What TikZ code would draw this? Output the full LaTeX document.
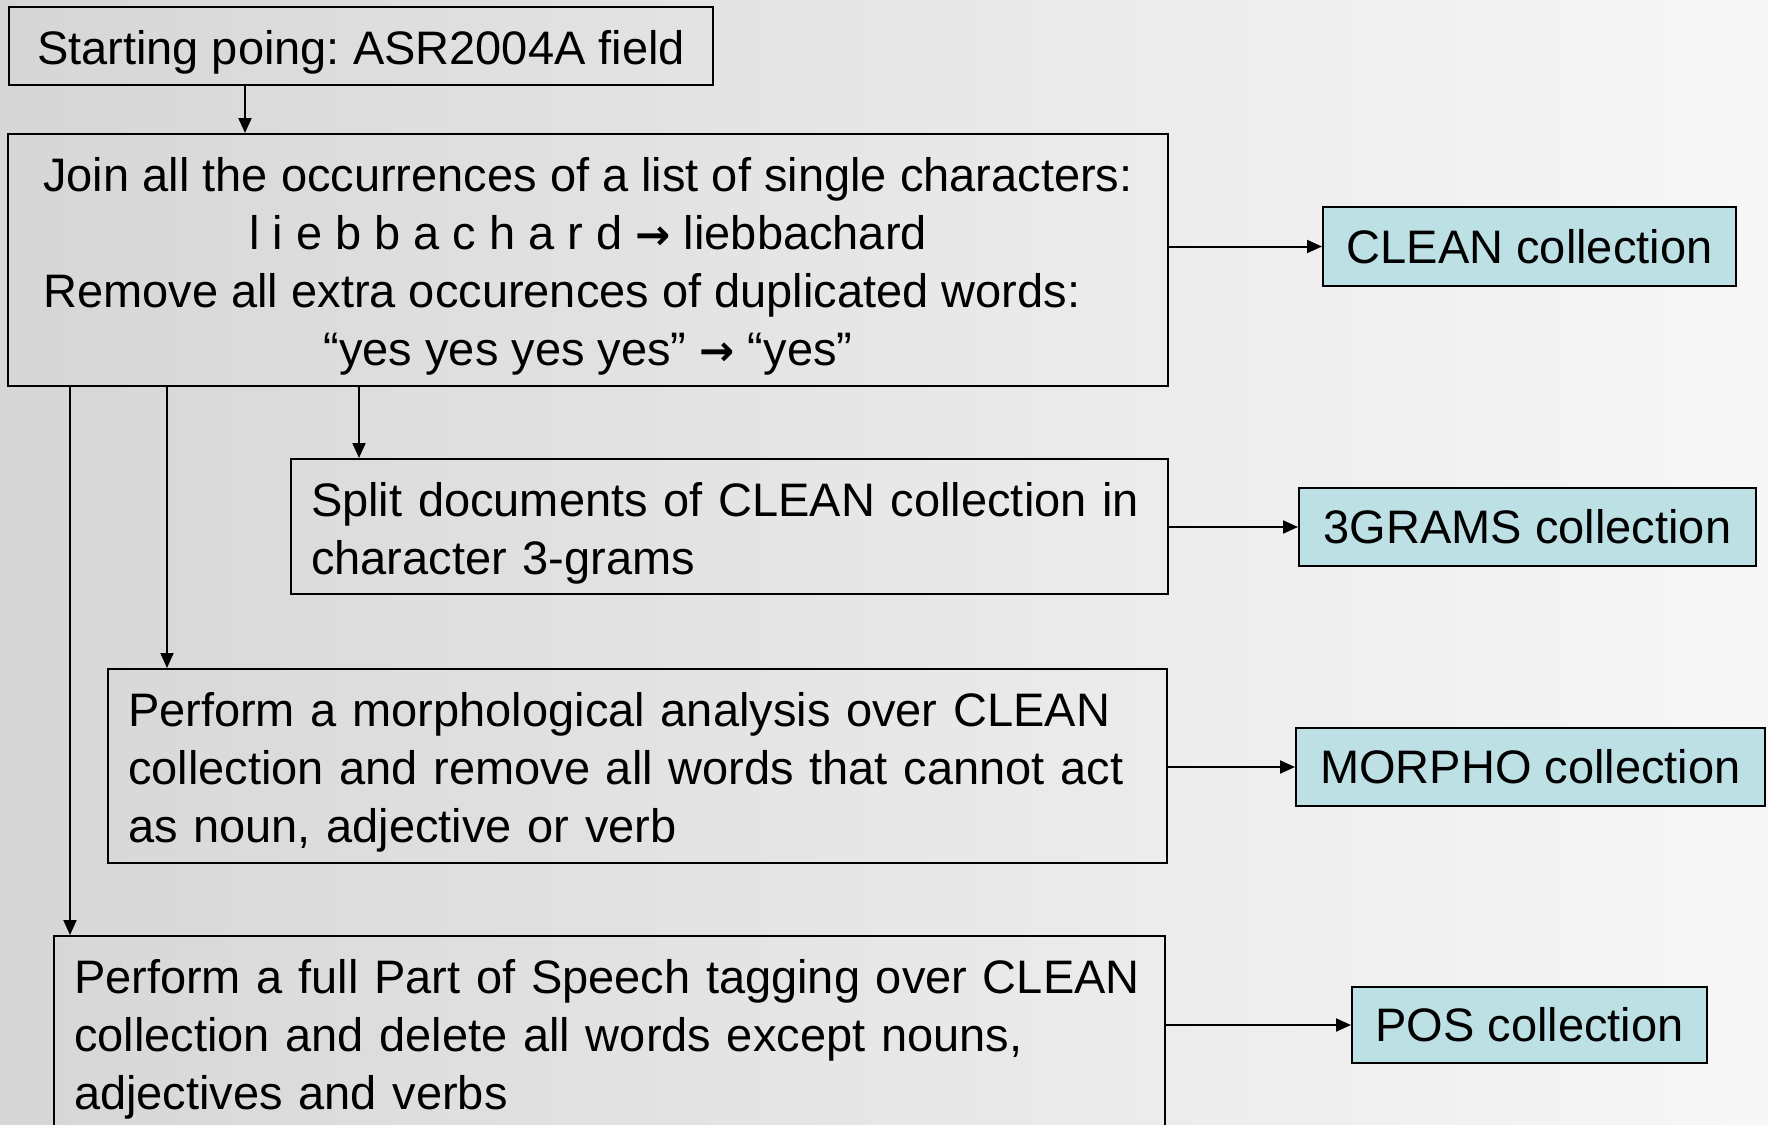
\documentclass[tikz,border=0pt]{standalone}
\usepackage{fontspec}
\setmainfont{Liberation Sans}
\newfontfamily\arrowfont{DejaVu Sans}
\usetikzlibrary{arrows.meta}
\definecolor{collfill}{RGB}{188,224,228}
\newcommand{\toarrow}{{\arrowfont\bfseries\fontsize{42}{58}\selectfont →}}
\frenchspacing

\begin{document}
\begin{tikzpicture}[x=1pt,y=-1pt,line width=2pt,
  arr/.style={-{Triangle[length=15pt,width=13pt]}},
  stepbox/.style={draw,rectangle,align=left,inner xsep=20pt,inner ysep=0pt,font=\fontsize{47}{58}\selectfont},
  coll/.style={draw,rectangle,fill=collfill,inner sep=0pt,font=\fontsize{47}{58}\selectfont}]
\useasboundingbox (0,0) rectangle (1768,1124);
\clip (0,0) rectangle (1768,1124);
% background
\shade[left color=black!16,right color=black!3] (0,0) rectangle (1768,1124);
% processing steps
\node[stepbox,minimum width=704pt,minimum height=78pt] (start) at (361,46) {\rule{0pt}{47pt}Starting poing: ASR2004A field};
\node[stepbox,minimum width=1160pt,minimum height=252pt] (join) at (588,260) {%
  \begin{tabular}{@{}l@{}}
  \rule{0pt}{54pt}Join all the occurrences of a list of single characters:\\
  \multicolumn{1}{@{}c@{}}{l i e b b a c h a r d \toarrow\ liebbachard}\\
  Remove all extra occurences of duplicated words:\\
  \multicolumn{1}{@{}c@{}}{“yes yes yes yes” \toarrow\ “yes”}
  \end{tabular}};
\node[stepbox,text width=837pt,minimum height=135pt] (split) at (729.5,526.5) {\rule{0pt}{47pt}Split documents of CLEAN collection in\\character 3-grams};
\node[stepbox,text width=1019pt,minimum height=194pt] (morph) at (637.5,766) {\rule{0pt}{47pt}Perform a morphological analysis over CLEAN\\collection and remove all words that cannot act\\as noun, adjective or verb};
\node[stepbox,text width=1071pt,minimum height=194pt] (pos) at (609.5,1033) {\rule{0pt}{47pt}Perform a full Part of Speech tagging over CLEAN\\collection and delete all words except nouns,\\adjectives and verbs};
% resulting collections
\node[coll,minimum width=413pt,minimum height=79pt] (clean) at (1529.5,246.5) {CLEAN collection};
\node[coll,minimum width=457pt,minimum height=78pt] (grams) at (1527.5,527) {3GRAMS collection};
\node[coll,minimum width=469pt,minimum height=78pt] (morpho) at (1530.5,767) {MORPHO collection};
\node[coll,minimum width=355pt,minimum height=76pt] (posc) at (1529.5,1025) {POS collection};
% downward arrows
\coordinate (a1) at ([xshift=237pt]start.south west);
\coordinate (b1) at ([xshift=352pt]join.south west);
\coordinate (b2) at ([xshift=160pt]join.south west);
\coordinate (b3) at ([xshift=63pt]join.south west);
\draw[arr] (a1) -- (a1 |- join.north);
\draw[arr] (b1) -- (b1 |- split.north);
\draw[arr] (b2) -- (b2 |- morph.north);
\draw[arr] (b3) -- (b3 |- pos.north);
% arrows to collections
\draw[arr] (join.east |- clean.west) -- (clean.west);
\draw[arr] (split.east |- grams.west) -- (grams.west);
\draw[arr] (morph.east |- morpho.west) -- (morpho.west);
\draw[arr] (pos.east |- posc.west) -- (posc.west);
\end{tikzpicture}
\end{document}
